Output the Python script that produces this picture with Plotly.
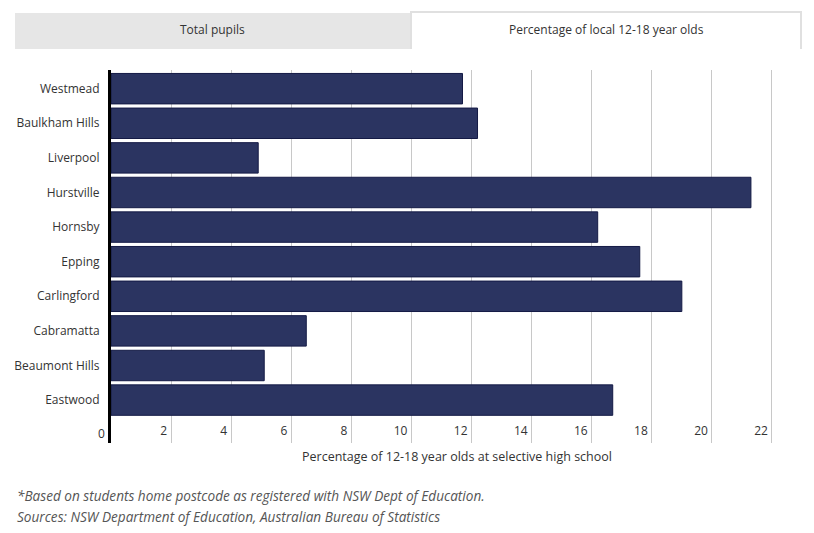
import plotly.graph_objects as go

suburbs = ["Westmead", "Baulkham Hills", "Liverpool", "Hurstville", "Hornsby",
           "Epping", "Carlingford", "Cabramatta", "Beaumont Hills", "Eastwood"]
pct = [11.7, 12.2, 4.9, 21.3, 16.2, 17.6, 19.0, 6.5, 5.1, 16.7]
x_ticks = [0, 2, 4, 6, 8, 10, 12, 14, 16, 18, 20, 22]
tab_labels = ["Total pupils", "Percentage of local 12-18 year olds"]
x_title = "Percentage of 12-18 year olds at selective high school"
footnote_lines = ["*Based on students home postcode as registered with NSW Dept of Education.",
                  "Sources: NSW Department of Education, Australian Bureau of Statistics"]

FONT = "Open Sans"
W, H = 814, 533
L, R, T, B = 111, 12, 70, 90
ph = H - T - B
pw = W - L - R


def px(x):
    return (x - L) / pw


def py(y):
    return (H - B - y) / ph


fig = go.Figure(go.Bar(
    y=suburbs, x=pct, orientation="h",
    marker=dict(color="#2b3461", line=dict(color="#141a45", width=1)),
    width=0.88, hoverinfo="x+y",
))

fig.update_layout(
    width=W, height=H,
    margin=dict(l=L, r=R, t=T, b=B),
    paper_bgcolor="white", plot_bgcolor="white",
    showlegend=False,
    font=dict(family=FONT, size=12, color="#333"),
    xaxis=dict(
        range=[0, 23], tickvals=x_ticks, ticktext=[str(v) for v in x_ticks],
        showgrid=True, gridcolor="#c8c8c8", gridwidth=1,
        zeroline=False, showline=False,
        ticklabelposition="inside left", ticklabelshift=-4,
        tickfont=dict(family=FONT, size=12, color="#333"),
    ),
    yaxis=dict(
        type="category", categoryorder="array", categoryarray=suburbs,
        range=[10.24, -0.54],
        showgrid=False, zeroline=False,
        showline=True, linecolor="black", linewidth=3,
        ticks="", ticklabelstandoff=6,
        tickfont=dict(family=FONT, size=12, color="#333"),
    ),
)

# Tabs
shapes = [
    dict(type="rect", xref="paper", yref="paper",
         x0=px(15), x1=px(411), y0=py(49), y1=py(13),
         fillcolor="#e6e6e6", line=dict(width=0), layer="above"),
    dict(type="rect", xref="paper", yref="paper",
         x0=px(411), x1=px(801), y0=py(54), y1=py(12),
         fillcolor="white", line=dict(color="#e0e0e0", width=2), layer="above"),
    dict(type="rect", xref="paper", yref="paper",
         x0=px(409), x1=px(803), y0=py(56), y1=py(49),
         fillcolor="white", line=dict(width=0), layer="above"),
]
fig.update_layout(shapes=shapes)

ann = [
    dict(text=tab_labels[0], xref="paper", yref="paper",
         x=px(212), y=py(30), xanchor="center", yanchor="middle",
         showarrow=False, font=dict(family=FONT, size=12, color="#333")),
    dict(text=tab_labels[1], xref="paper", yref="paper",
         x=px(606), y=py(30), xanchor="center", yanchor="middle",
         showarrow=False, font=dict(family=FONT, size=12, color="#333")),
    # tick label at zero (hidden by plotly for inside labels at the edge)
    dict(text=str(x_ticks[0]), xref="x", yref="paper",
         x=x_ticks[0], y=py(433), xanchor="right", yanchor="middle", xshift=-4,
         showarrow=False, font=dict(family=FONT, size=12, color="#333")),
    dict(text=x_title, xref="paper", yref="paper",
         x=0.5, y=py(456), xanchor="center", yanchor="middle",
         showarrow=False, font=dict(family=FONT, size=12.5, color="#333")),
]
for i, line in enumerate(footnote_lines):
    ann.append(dict(text="<i>" + line + "</i>", xref="paper", yref="paper",
                    x=px(15), y=py(495 + 21 * i),
                    xanchor="left", yanchor="middle", align="left",
                    showarrow=False, font=dict(family=FONT, size=13.6, color="#555")))
fig.update_layout(annotations=ann)

fig.write_html("out.html")
